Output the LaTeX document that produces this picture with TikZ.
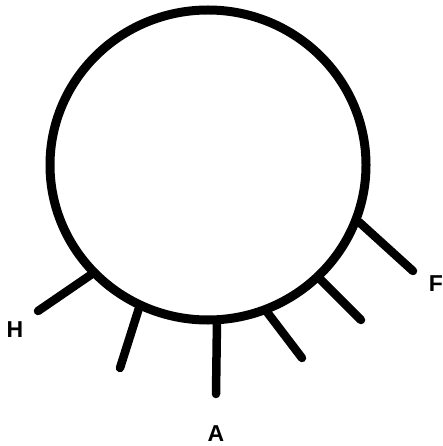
\documentclass[tikz,border=0pt]{standalone}
\usepackage{fontspec}
\setmainfont{Liberation Sans}
\begin{document}
\begin{tikzpicture}[x=1pt,y=-1pt,
  rim/.style={line width=9pt},
  tick/.style={line width=8.5pt,line cap=round},
  lbl/.style={font=\bfseries\fontsize{23}{23}\selectfont,inner sep=0pt}]
\useasboundingbox (0,0) rectangle (443,446);
\draw[rim] (208,165) ellipse [x radius=158, y radius=155];
% tick roots on the rim and free ends
\coordinate (h1) at (92,274);  \coordinate (h2) at (38,311);
\coordinate (b1) at (139,308); \coordinate (b2) at (120,368);
\coordinate (a1) at (217,320); \coordinate (a2) at (216,394);
\coordinate (c1) at (267,312); \coordinate (c2) at (302,358);
\coordinate (d1) at (320,279); \coordinate (d2) at (361,320);
\coordinate (f1) at (359,222); \coordinate (f2) at (413,271);
\draw[tick] (h1) -- (h2);
\draw[tick] (b1) -- (b2);
\draw[tick] (a1) -- (a2);
\draw[tick] (c1) -- (c2);
\draw[tick] (d1) -- (d2);
\draw[tick] (f1) -- (f2);
\node[lbl] (H) at (15,330) {H};
\node[lbl] (A) at (216,434) {A};
\node[lbl] (F) at (436,284) {F};
\end{tikzpicture}
\end{document}
